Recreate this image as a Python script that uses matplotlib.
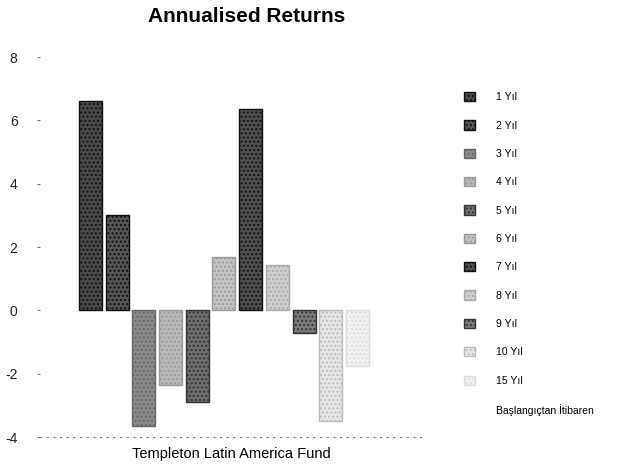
import numpy as np
import matplotlib
matplotlib.use('Agg')
import matplotlib.pyplot as plt

plt.rcParams['font.family'] = ['Liberation Sans', 'DejaVu Sans']

# data
periods = ['1 Yıl', '2 Yıl', '3 Yıl', '4 Yıl', '5 Yıl', '6 Yıl', '7 Yıl',
           '8 Yıl', '9 Yıl', '10 Yıl', '15 Yıl', 'Başlangıçtan İtibaren']
returns = [6.6, 3.0, -3.65, -2.35, -2.9, 1.7, 6.35, 1.45, -0.7, -3.5, -1.75, 0.0]
fills = ['#4a4a4a', '#555555', '#8a8a8a', '#b8b8b8', '#6e6e6e', '#c4c4c4',
         '#4f4f4f', '#cfcfcf', '#7a7a7a', '#e6e6e6', '#f2f2f2', '#ffffff']
edges = ['#111111', '#111111', '#666666', '#999999', '#333333', '#999999',
         '#111111', '#aaaaaa', '#333333', '#bbbbbb', '#dddddd', '#ffffff']
fund = 'Templeton Latin America Fund'
yticks = [-4, -2, 0, 2, 4, 6, 8]

fig = plt.figure(figsize=(6.32, 4.72), dpi=100)
ax = fig.add_axes([0.063, 0.074, 0.606, 0.805])

x = np.arange(len(periods))
for i in range(len(periods)):
    ax.bar(x[i], returns[i], width=0.86, color=fills[i], edgecolor=edges[i],
           linewidth=1.0, hatch='....', label=periods[i])

ax.set_ylim(-4, 8)
ax.set_xlim(-1.9, 12.45)
ax.set_yticks(yticks)
ax.set_yticklabels([str(t) for t in yticks], fontsize=10, color='#222222')
ax.set_xticks([])
for s in ['top', 'right', 'left']:
    ax.spines[s].set_visible(False)
ax.spines['bottom'].set_linestyle((0, (1, 5)))
ax.spines['bottom'].set_color('#777777')
ax.tick_params(axis='y', length=2, color='#777777', pad=14)
ax.set_xlabel(fund, fontsize=10.5, labelpad=7)

fig.suptitle('Annualised Returns', fontsize=15, fontweight='bold', x=0.39, y=0.985)

fig.legend(loc='upper left', bbox_to_anchor=(0.72, 0.825), frameon=False,
           fontsize=7.5, labelspacing=1.74, handlelength=1.0, handleheight=1.0,
           handletextpad=2.0)

plt.savefig('out.png', dpi=100)
